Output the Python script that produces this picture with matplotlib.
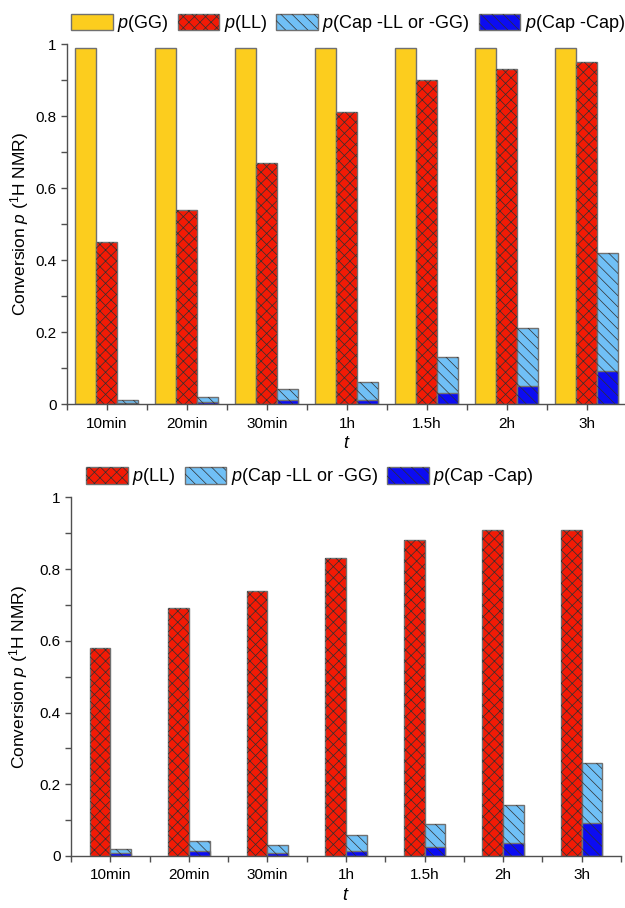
import matplotlib
matplotlib.use('Agg')
import matplotlib.pyplot as plt
import numpy as np

# sampling times
times = ['10min', '20min', '30min', '1h', '1.5h', '2h', '3h']

# top panel
top_gg = [0.99, 0.99, 0.99, 0.99, 0.99, 0.99, 0.99]
top_ll = [0.45, 0.54, 0.67, 0.81, 0.90, 0.93, 0.95]
top_cap_llgg = [0.01, 0.02, 0.042, 0.06, 0.13, 0.21, 0.42]
top_cap_cap = [0.004, 0.005, 0.01, 0.01, 0.03, 0.05, 0.092]

# bottom panel
bot_ll = [0.58, 0.69, 0.74, 0.83, 0.88, 0.91, 0.91]
bot_cap_llgg = [0.02, 0.042, 0.031, 0.059, 0.089, 0.141, 0.26]
bot_cap_cap = [0.008, 0.013, 0.008, 0.013, 0.026, 0.036, 0.092]

plt.rcParams['font.family'] = ['Liberation Sans', 'DejaVu Sans']
plt.rcParams['mathtext.fontset'] = 'custom'
plt.rcParams['mathtext.it'] = 'Liberation Sans:italic'
plt.rcParams['mathtext.rm'] = 'Liberation Sans'
plt.rcParams['hatch.linewidth'] = 0.5

YELLOW = '#fccd1e'
RED = '#f31a05'
LBLUE = '#70c0f6'
DBLUE = '#0c0cf2'
EDGE = '#707070'
HATCH = '#303030'
AXC = '#505050'

w = 0.263


class HatchBar:
    # legend proxy: list of the fill bar and its hatch overlay
    pass


def hbar(ax, xs, vals, color, hatch=None):
    # filled bar with grey outline, then a dark hatch layer on top
    b = ax.bar(xs, vals, w, color=color, edgecolor=EDGE, linewidth=1)
    hb = None
    if hatch:
        hb = ax.bar(xs, vals, w, color='none', edgecolor=HATCH, linewidth=0, hatch=hatch)
    return (b, hb) if hb is not None else b


def style_axes(ax):
    ax.spines['top'].set_visible(False)
    ax.spines['right'].set_visible(False)
    for s in ['left', 'bottom']:
        ax.spines[s].set_color(AXC)
        ax.spines[s].set_linewidth(1.0)
    ax.set_xlim(-0.5, 6.5)
    ax.set_ylim(0, 1)
    ax.set_xticks(range(len(times)))
    ax.set_xticklabels(times, fontsize=11)
    ax.set_xticks(np.arange(-0.5, 7, 1), minor=True)
    ax.set_yticks([0, 0.2, 0.4, 0.6, 0.8, 1.0])
    ax.set_yticklabels(['0', '0.2', '0.4', '0.6', '0.8', '1'], fontsize=11)
    ax.set_yticks(np.arange(0.1, 1.0, 0.2), minor=True)
    ax.tick_params(axis='both', which='both', direction='out', color=AXC, length=4, width=1)
    ax.tick_params(axis='x', which='major', pad=5)
    ax.set_xlabel('$t$', fontsize=13, labelpad=3)
    ax.set_ylabel('Conversion $p$ ($^1$H NMR)', fontsize=12.5)


def legend(ax, handles, labels, anchor_x, ncol):
    ax.legend(handles, labels, loc='lower left', bbox_to_anchor=(anchor_x, 1.0), ncol=ncol,
              frameon=False, fontsize=13, handlelength=2.3, handleheight=1.05,
              handletextpad=0.25, columnspacing=0.5, borderaxespad=0.35, borderpad=0.2)


fig = plt.figure(figsize=(6.25, 9.08), dpi=100)
x = np.arange(len(times))

# ---- top panel
ax1 = fig.add_axes([0.107, 0.555, 0.896, 0.3965])
h1 = hbar(ax1, x - w, top_gg, YELLOW)
h2 = hbar(ax1, x, top_ll, RED, 'xxx')
h3 = hbar(ax1, x + w, top_cap_llgg, LBLUE, '\\\\\\')
h4 = hbar(ax1, x + w, top_cap_cap, DBLUE, '\\\\\\')
style_axes(ax1)
ax1.yaxis.set_label_coords(-0.064, 0.5)
legend(ax1, [h1, h2, h3, h4],
       ['$p$(GG)', '$p$(LL)', '$p$(Cap -LL or -GG)', '$p$(Cap -Cap)'], -0.01, 4)

# ---- bottom panel
ax2 = fig.add_axes([0.1136, 0.0573, 0.88, 0.395])
g1 = hbar(ax2, x - w / 2, bot_ll, RED, 'xxx')
g2 = hbar(ax2, x + w / 2, bot_cap_llgg, LBLUE, '\\\\\\')
g3 = hbar(ax2, x + w / 2, bot_cap_cap, DBLUE, '\\\\\\')
style_axes(ax2)
ax2.yaxis.set_label_coords(-0.074, 0.5)
legend(ax2, [g1, g2, g3], ['$p$(LL)', '$p$(Cap -LL or -GG)', '$p$(Cap -Cap)'], 0.01, 3)

fig.savefig('out.png', dpi=100)
